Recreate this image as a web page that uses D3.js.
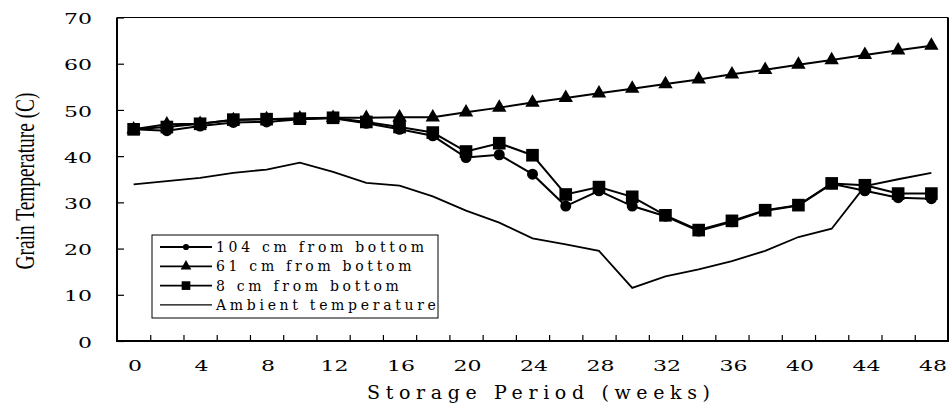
<!DOCTYPE html>
<html>
<head>
<meta charset="utf-8">
<script src="https://cdn.jsdelivr.net/npm/d3@7"></script>
<style>
  body { margin: 0; background: #fff; }
  svg { display: block; }
  .tick text { font-family: "DejaVu Serif", serif; font-size: 14.5px; fill: #000; }
</style>
</head>
<body>
<div class="graph"></div>
<script>
const w = 952;
const h = 405;

// storage period (weeks)
const weeks = [0, 2, 4, 6, 8, 10, 12, 14, 16, 18, 20, 22, 24, 26, 28, 30, 32, 34, 36, 38, 40, 42, 44, 46, 48];

// grain temperature (C)
const t104 = [45.8, 45.5, 46.5, 47.3, 47.4, 48.0, 48.2, 47.1, 45.8, 44.4, 39.7, 40.3, 36.1, 29.2, 32.5, 29.2, 27.0, 23.8, 25.8, 28.2, 29.3, 34.0, 32.5, 31.0, 30.8];
const t61 = [45.8, 46.9, 47.0, 47.8, 48.0, 48.2, 48.3, 48.3, 48.4, 48.4, 49.5, 50.5, 51.6, 52.6, 53.6, 54.6, 55.6, 56.6, 57.7, 58.7, 59.8, 60.8, 61.9, 62.9, 63.9];
const t8 = [45.8, 46.3, 47.0, 47.9, 48.0, 48.1, 48.3, 47.4, 46.3, 45.1, 41.0, 42.8, 40.2, 31.7, 33.3, 31.2, 27.2, 24.0, 26.0, 28.3, 29.4, 34.1, 33.7, 31.9, 31.9];
const ambient = [33.9, 34.6, 35.3, 36.4, 37.1, 38.6, 36.6, 34.2, 33.6, 31.3, 28.2, 25.6, 22.2, 20.9, 19.5, 11.5, 14.0, 15.5, 17.3, 19.5, 22.5, 24.3, 33.5, 35.0, 36.4];

const seriesNames = ["104 cm from bottom", "61 cm from bottom", "8 cm from bottom", "Ambient temperature"];
const yTicks = [0, 10, 20, 30, 40, 50, 60, 70];
const xLabels = [0, 4, 8, 12, 16, 20, 24, 28, 32, 36, 40, 44, 48];
const xMinor = d3.range(1, 48, 2);

const canvas = d3.select('.graph')
  .append("svg")
  .attr("width", w)
  .attr("height", h);

const xScale = d3.scaleLinear().domain([-1, 49]).range([117, 948]);
const yScale = d3.scaleLinear().domain([0, 70]).range([341, 17.5]);

// wide, spaced digits like the scanned figure
function stretchDigits(sel) {
  sel.selectAll(".tick text")
    .attr("textLength", function() { return this.textContent.length * 14; })
    .attr("lengthAdjust", "spacingAndGlyphs");
}

// y axis: inward ticks + labels
const yAxis = canvas.append("g")
  .attr("transform", `translate(${xScale(-1)},0)`)
  .call(d3.axisLeft(yScale).tickValues(yTicks).tickSize(-7).tickPadding(25));
yAxis.select(".domain").remove();
yAxis.selectAll(".tick line").attr("stroke", "#000").attr("stroke-width", 1.2);
yAxis.selectAll(".tick text").attr("dy", "0.42em");
stretchDigits(yAxis);

// x axis: minor ticks at odd weeks
const xTickAxis = canvas.append("g")
  .attr("transform", `translate(0,${yScale(0)})`)
  .call(d3.axisBottom(xScale).tickValues(xMinor).tickSize(-6).tickFormat(""));
xTickAxis.select(".domain").remove();
xTickAxis.selectAll(".tick line").attr("stroke", "#000").attr("stroke-width", 1.2);

const xLabelAxis = canvas.append("g")
  .attr("transform", `translate(0,${yScale(0)})`)
  .call(d3.axisBottom(xScale).tickValues(xLabels).tickSize(0).tickPadding(20));
xLabelAxis.select(".domain").remove();
xLabelAxis.selectAll(".tick text").attr("dx", "1px");
stretchDigits(xLabelAxis);

// frame
canvas.append("line")
  .attr("x1", xScale(-1)).attr("x2", xScale(49))
  .attr("y1", yScale(70)).attr("y2", yScale(70))
  .attr("stroke", "#000").attr("stroke-width", 1);
canvas.append("path")
  .attr("d", `M${xScale(-1)},${yScale(70)}V${yScale(0)}H${xScale(49)}V${yScale(70)}`)
  .attr("fill", "none")
  .attr("stroke", "#000")
  .attr("stroke-width", 2);

// titles
canvas.append("text")
  .attr("transform", "rotate(-90)")
  .attr("x", -181)
  .attr("y", 34)
  .attr("text-anchor", "middle")
  .attr("textLength", 177)
  .attr("lengthAdjust", "spacingAndGlyphs")
  .style("font-family", "'Liberation Serif', serif")
  .style("font-size", "28px")
  .text("Grain Temperature (C)");

canvas.append("text")
  .attr("x", 367)
  .attr("y", 399)
  .attr("textLength", 343)
  .attr("lengthAdjust", "spacing")
  .style("font-family", "'DejaVu Serif', serif")
  .style("font-size", "19px")
  .text("Storage Period (weeks)");

// lines
const line = d3.line()
  .x((d, i) => xScale(weeks[i]))
  .y(d => yScale(d));

canvas.append("path").datum(ambient)
  .attr("d", line).attr("fill", "none").attr("stroke", "#000").attr("stroke-width", 1.8);
[t104, t61, t8].forEach(s => {
  canvas.append("path").datum(s)
    .attr("d", line).attr("fill", "none").attr("stroke", "#000").attr("stroke-width", 2);
});

// markers
const circleSym = d3.symbol().type(d3.symbolCircle).size(95);
const triSym = d3.symbol().type(d3.symbolTriangle).size(90);
const sqSym = d3.symbol().type(d3.symbolSquare).size(160);

function drawMarks(data, sym) {
  canvas.append("g").selectAll("path")
    .data(data)
    .enter().append("path")
    .attr("d", sym)
    .attr("transform", (d, i) => `translate(${xScale(weeks[i])},${yScale(d)})`)
    .attr("fill", "#000");
}
drawMarks(t104, circleSym);
drawMarks(t61, triSym);
drawMarks(t8, sqSym);

// legend
const legend = canvas.append("g").attr("transform", "translate(152,235)");
legend.append("rect")
  .attr("width", 286).attr("height", 83)
  .attr("fill", "#fff").attr("stroke", "#000").attr("stroke-width", 1);

const legendSyms = [
  d3.symbol().type(d3.symbolCircle).size(30),
  d3.symbol().type(d3.symbolTriangle).size(50),
  d3.symbol().type(d3.symbolSquare).size(75),
  null
];

const rows = legend.selectAll(".legend")
  .data(seriesNames)
  .enter().append("g")
  .attr("class", "legend")
  .attr("transform", (d, i) => `translate(0,${12 + i * 19.3})`);

rows.append("line")
  .attr("x1", 8).attr("x2", 60)
  .attr("stroke", "#000")
  .attr("stroke-width", (d, i) => i < 3 ? 1.8 : 1.4);

rows.each(function(d, i) {
  if (legendSyms[i]) {
    d3.select(this).append("path")
      .attr("d", legendSyms[i])
      .attr("transform", "translate(34,0)")
      .attr("fill", "#000");
  }
});

rows.append("text")
  .attr("x", 64)
  .attr("y", 5)
  .style("font-family", "'DejaVu Serif', serif")
  .style("font-size", "14px")
  .style("letter-spacing", "3.7px")
  .text(d => d);
</script>
</body>
</html>
